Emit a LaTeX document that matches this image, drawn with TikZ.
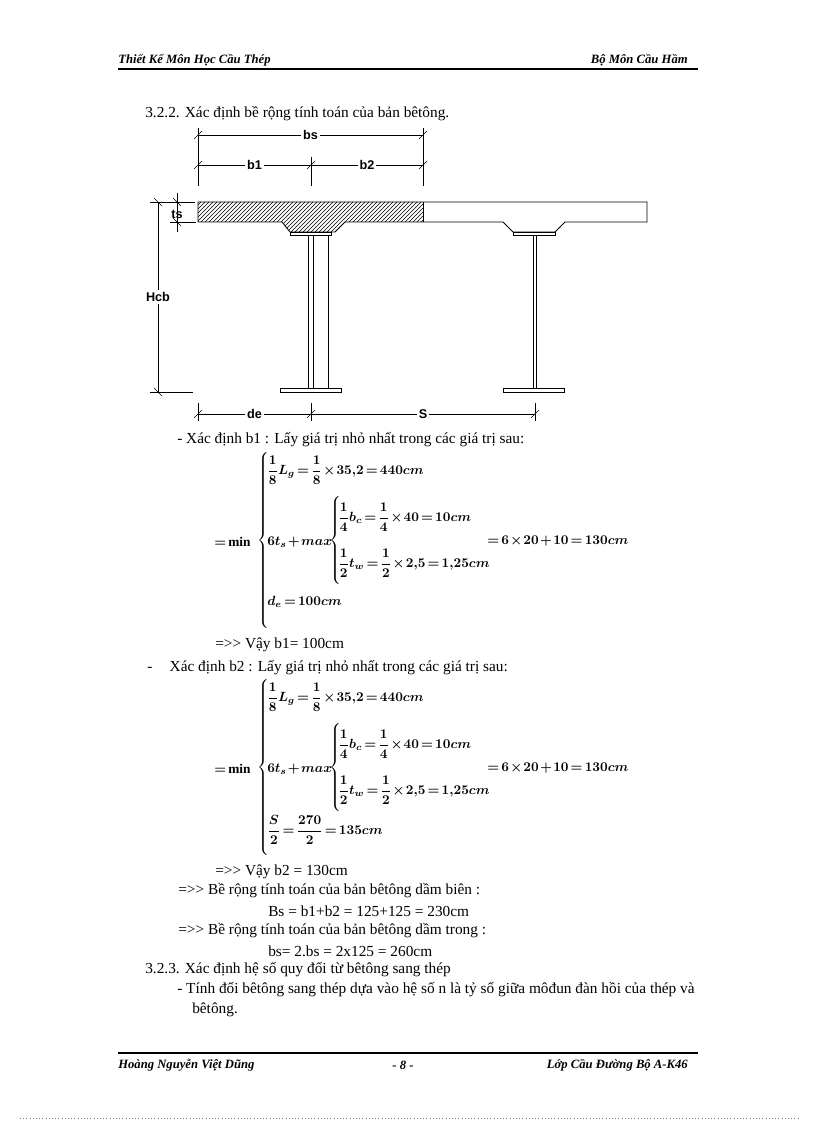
\documentclass[tikz,border=0pt]{standalone}
\usepackage{amsmath}
\usepackage{fontspec}
\setmainfont[Ligatures=NoCommon]{Liberation Serif}
\setsansfont{Liberation Sans}
\usetikzlibrary{patterns}
\newcommand{\arr}{=\kern0pt>\kern0pt>}
\newcommand{\fmfont}{\fontsize{10}{12}\selectfont\boldmath\medmuskip=1.5mu\thickmuskip=2.5mu\relax}
\begin{document}
\begin{tikzpicture}[x=0.75pt,y=-0.75pt,
  txt/.style={anchor=west,inner sep=0pt,font=\fontsize{11.5}{13}\selectfont},
  hdr/.style={anchor=west,inner sep=0pt,font=\fontsize{9.5}{11}\selectfont\bfseries\itshape},
  lab/.style={fill=white,inner sep=1.5pt,font=\fontsize{9.5}{11}\selectfont\sffamily\bfseries},
  fm/.style={anchor=west,inner sep=0pt,font=\fmfont},
  ln/.style={line width=0.6pt},
  tk/.style={line width=0.5pt}]
\useasboundingbox (0,0) rectangle (816,1123);
% header / footer
\node[hdr] (h1) at (118,60) {Thiết Kế Môn Học Cầu Thép};
\node[hdr,anchor=east] (h2) at (688,60) {Bộ Môn Cầu Hầm};
\draw[line width=0.8pt] (118,69) -- (698,69);
\draw[line width=0.8pt] (118,1053) -- (698,1053);
\node[hdr] (f1) at (118,1065) {Hoàng Nguyễn  Việt Dũng};
\node[hdr,anchor=center] (f2) at (403,1065) {- 8 -};
\node[hdr,anchor=east] (f3) at (688,1065) {Lớp Cầu Đường Bộ A-K46};
\draw[dotted,gray] (20,1118) -- (800,1118);
% title
\node[txt] (t1) at (145,114) {3.2.2. Xác định bề rộng tính toán của bản bêtông.};
% drawing: slab
\fill[pattern=north east lines] (198,202) -- (423,202) -- (423,222) -- (345,222) -- (335,232) -- (290,232) -- (282,222) -- (198,222) -- cycle;
\draw[ln] (198,202) -- (647,202) -- (647,222) -- (565,222) -- (555,232) -- (513,232) -- (503,222) -- (345,222) -- (335,232) -- (290,232) -- (282,222) -- (198,222) -- cycle;
\draw[ln] (423,202) -- (423,222);
% left beam
\draw[ln] (290,232) rectangle (331,235);
\draw[ln] (308,235) rectangle (313,388);
\draw[ln] (328,235) -- (328,388);
\draw[ln] (280,388) rectangle (341,392);
% right beam
\draw[ln] (513,232) rectangle (555,235);
\draw[ln] (533,235) rectangle (536,388);
\draw[ln] (503,388) rectangle (564,392);
% dimension bs
\coordinate (bsA) at (198,135); \coordinate (bsB) at (423,135);
\draw[tk] (bsA) -- node[lab] (bs) {bs} (bsB);
\draw[tk] (198,128) -- (198,186); \draw[tk] (423,128) -- (423,186);
\draw[tk] (311,157) -- (311,186);
\coordinate (b1A) at (198,165); \coordinate (b1B) at (311,165); \coordinate (b2B) at (423,165);
\draw[tk] (b1A) -- node[lab] (b1) {b1} (b1B);
\draw[tk] (b1B) -- node[lab] (b2) {b2} (b2B);
\foreach \x/\y in {198/135,423/135,198/165,311/165,423/165,198/414,311/414,535/414}
  \draw[tk] (\x-4,\y+4) -- (\x+4,\y-4);
% Hcb
\coordinate (hA) at (158,202); \coordinate (hB) at (158,392);
\draw[tk] (hA) -- node[lab] (hcb) {Hcb} (hB);
\draw[tk] (150,202) -- (195,202); \draw[tk] (150,392) -- (193,392);
\foreach \y in {202,392} \draw[tk] (154,\y-4) -- (162,\y+4);
% ts
\draw[tk] (177,193) -- (177,232);
\draw[tk] (170,222) -- (196,222);
\foreach \y in {202,222} \draw[tk] (173,\y-4) -- (181,\y+4);
\node[lab,fill=none] (ts) at (177,214) {ts};
% de / S
\coordinate (dA) at (198,414); \coordinate (dB) at (311,414); \coordinate (sB) at (535,414);
\draw[tk] (dA) -- node[lab] (de) {de} (dB);
\draw[tk] (dB) -- node[lab] (S) {S} (sB);
\foreach \x in {198,311,535} \draw[tk] (\x,403) -- (\x,421);
% b1 text
\node[txt] (l1) at (177,440) {- Xác định b1 : Lấy giá trị nhỏ nhất trong các giá trị sau:};
% block 1
\node[fm] (m1) at (214,542) {$=\min$};
\node[fm] (br1) at (257,542) {$\left\{\rule[-66pt]{0pt}{132pt}\right.$};
\node[fm] (r11) at (267,470) {$\dfrac18 L_g=\dfrac18\times35{,}2=440cm$};
\node[fm] (r12) at (267,542) {$6t_s+max$};
\node[fm] (bi1) at (329,541) {$\left\{\rule[-32pt]{0pt}{64pt}\right.$};
\node[fm] (r13) at (338,517) {$\dfrac14 b_c=\dfrac14\times40=10cm$};
\node[fm] (r14) at (338,563) {$\dfrac12 t_w=\dfrac12\times2{,}5=1{,}25cm$};
\node[fm] (r15) at (487,541) {$=6\times20+10=130cm$};
\node[fm] (r16) at (267,602) {$d_e=100cm$};
\node[txt] (v1) at (215,645) {\arr{} Vậy b1= 100cm};
\node[txt] (l2) at (147,668) {-\hspace{13pt}Xác định b2 : Lấy giá trị nhỏ nhất trong các giá trị sau:};
% block 2
\node[fm] (m2) at (214,769) {$=\min$};
\node[fm] (br2) at (257,769) {$\left\{\rule[-66pt]{0pt}{132pt}\right.$};
\node[fm] (r21) at (267,697) {$\dfrac18 L_g=\dfrac18\times35{,}2=440cm$};
\node[fm] (r22) at (267,769) {$6t_s+max$};
\node[fm] (bi2) at (329,768) {$\left\{\rule[-32pt]{0pt}{64pt}\right.$};
\node[fm] (r23) at (338,744) {$\dfrac14 b_c=\dfrac14\times40=10cm$};
\node[fm] (r24) at (338,790) {$\dfrac12 t_w=\dfrac12\times2{,}5=1{,}25cm$};
\node[fm] (r25) at (487,768) {$=6\times20+10=130cm$};
\node[fm] (r26) at (267,830) {$\dfrac S2=\dfrac{270}2=135cm$};
\node[txt] (v2) at (215,872) {\arr{} Vậy b2 = 130cm};
\node[txt] (v3) at (178,891) {\arr{} Bề rộng tính toán của bản bêtông dầm biên :};
\node[txt] (v4) at (268,911) {Bs = b1+b2 = 125+125  = 230cm};
\node[txt] (v5) at (178,931) {\arr{} Bề rộng tính toán của bản bêtông dầm  trong :};
\node[txt] (v6) at (268,951) {bs= 2.bs = 2x125 = 260cm};
\node[txt] (t2) at (145,970) {3.2.3. Xác định hệ số quy đổi từ bêtông sang thép};
\node[txt] (p1) at (177,990) {- Tính  đổi bêtông sang thép dựa vào hệ số n là tỷ số giữa môđun đàn hồi của thép và};
\node[txt] (p2) at (192,1010) {bêtông.};
\end{tikzpicture}
\end{document}
